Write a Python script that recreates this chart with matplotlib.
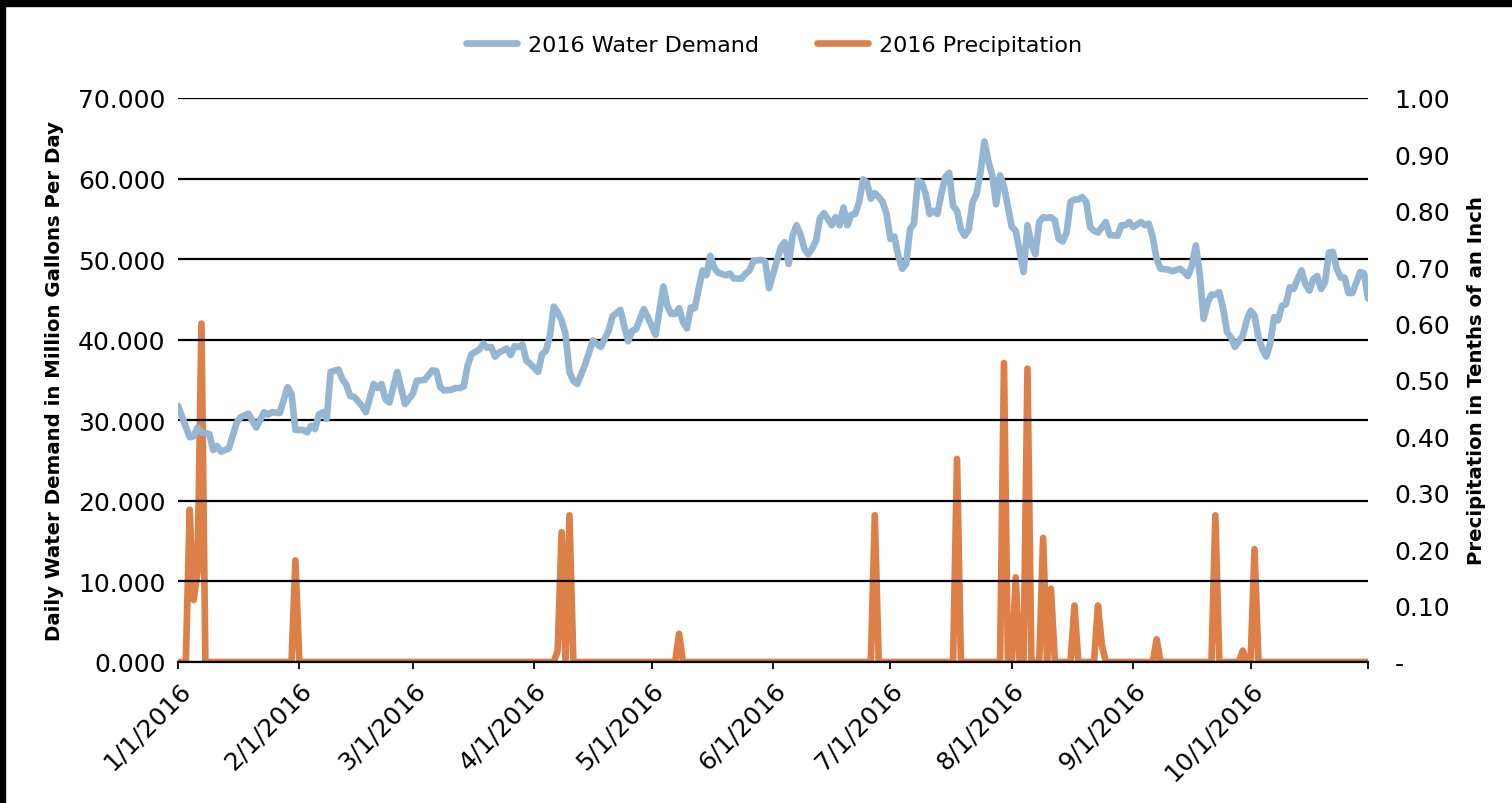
import numpy as np
import matplotlib
matplotlib.use("Agg")
import matplotlib.pyplot as plt
from matplotlib.patches import Rectangle

# Demand: (day offset from 1/1/2016, million gallons per day)
demand_days = [0, 3, 4, 5, 6, 8, 9, 10, 11, 13, 15, 16, 18, 20, 22, 23, 24, 26, 28, 29,
               30, 32, 33, 34, 35, 36, 37, 38, 39, 41, 42, 43, 44, 45, 47, 48, 50, 51, 52, 53,
               54, 56, 58, 60, 61, 63, 65, 66, 67, 68, 70, 71, 72, 73, 74, 75, 77, 78, 79, 80,
               81, 82, 84, 85, 86, 87, 88, 89, 90, 92, 93, 94, 95, 96, 97, 98, 99, 100, 101, 102,
               103, 104, 106, 107, 108, 110, 111, 113, 114, 115, 116, 117, 119, 120, 122, 124, 125, 126, 127, 128,
               129, 130, 131, 132, 134, 135, 136, 137, 138, 140, 141, 142, 144, 145, 146, 147, 149, 150, 151, 153,
               154, 155, 156, 157, 158, 159, 160, 161, 162, 163, 164, 165, 166, 167, 168, 169, 170, 171, 172, 173,
               174, 175, 176, 177, 178, 179, 180, 181, 182, 183, 184, 185, 186, 187, 188, 189, 190, 191, 192, 193,
               194, 195, 196, 197, 198, 199, 200, 201, 202, 203, 204, 205, 206, 207, 208, 209, 210, 211, 213, 214,
               215, 216, 217, 218, 219, 220, 221, 222, 223, 224, 225, 226, 227, 228, 229, 230, 231, 232, 233, 234,
               235, 237, 238, 240, 241, 242, 243, 244, 246, 247, 248, 249, 250, 251, 253, 254, 256, 257, 258, 259,
               260, 261, 262, 263, 264, 265, 266, 267, 268, 269, 270, 272, 273, 274, 275, 276, 277, 278, 279, 280,
               281, 282, 283, 284, 285, 286, 287, 288, 289, 290, 291, 292, 293, 294, 295, 296, 297, 298, 299, 300,
               302, 303, 304]
demand = [31.8, 27.9, 28.0, 29.1, 28.5, 28.3, 26.3, 26.8, 26.1, 26.5, 29.7, 30.4, 30.8, 29.1, 31.0, 30.7, 31.0, 30.9, 34.1, 33.3,
          28.8, 28.8, 28.5, 29.3, 28.9, 30.7, 31.0, 30.2, 36.0, 36.3, 35.1, 34.4, 33.0, 32.9, 31.8, 31.0, 34.5, 34.0, 34.5, 32.6,
          32.2, 36.0, 32.0, 33.3, 34.9, 35.0, 36.2, 36.1, 34.1, 33.7, 33.8, 34.0, 34.0, 34.2, 36.8, 38.2, 38.8, 39.5, 39.0, 39.1,
          37.9, 38.4, 38.9, 38.1, 39.2, 39.1, 39.4, 37.4, 37.0, 36.0, 38.2, 38.6, 40.5, 44.1, 43.4, 42.4, 40.7, 36.0, 34.9, 34.5,
          35.7, 36.9, 39.9, 39.5, 39.1, 41.1, 42.9, 43.7, 41.7, 39.8, 41.1, 41.3, 43.8, 42.8, 40.6, 46.6, 44.2, 43.2, 43.2, 43.9,
          42.2, 41.4, 44.0, 43.9, 48.6, 48.0, 50.4, 48.9, 48.3, 48.0, 48.2, 47.6, 47.6, 48.2, 48.6, 49.8, 49.9, 49.7, 46.4, 49.8,
          51.5, 52.1, 49.4, 52.9, 54.2, 53.1, 51.3, 50.6, 51.3, 52.3, 55.1, 55.7, 55.0, 54.2, 55.2, 54.2, 56.4, 54.2, 55.5, 55.6,
          57.1, 59.9, 59.5, 57.5, 58.2, 57.7, 57.1, 55.6, 52.5, 52.8, 50.4, 48.8, 49.4, 53.7, 54.4, 59.7, 59.5, 58.1, 55.6, 56.0,
          55.6, 58.1, 60.2, 60.7, 56.6, 56.0, 53.7, 52.9, 53.7, 57.1, 58.1, 60.8, 64.6, 62.2, 60.4, 56.8, 60.4, 59.0, 54.0, 53.5,
          51.0, 48.4, 54.2, 51.9, 50.6, 54.6, 55.2, 55.1, 55.2, 54.8, 52.5, 52.2, 53.3, 57.1, 57.4, 57.4, 57.7, 57.1, 54.0, 53.5,
          53.3, 54.6, 53.0, 52.9, 54.2, 54.2, 54.6, 54.0, 54.6, 54.2, 54.4, 52.7, 50.0, 48.8, 48.7, 48.5, 48.8, 48.4, 47.9, 49.2,
          51.7, 48.2, 42.6, 44.6, 45.6, 45.6, 45.9, 43.8, 40.9, 40.3, 39.1, 40.5, 42.4, 43.6, 43.0, 40.3, 38.8, 37.9, 39.5, 42.8,
          42.4, 44.2, 44.4, 46.5, 46.3, 47.5, 48.6, 46.9, 46.1, 47.5, 47.9, 46.3, 47.1, 50.8, 50.9, 48.8, 47.7, 47.7, 45.8, 45.8,
          48.4, 48.2, 45.1]

# Precipitation: rainy days (day offset) and amounts; all other days are 0
rain_days = [3, 4, 5, 6, 30, 97, 98, 100, 128, 178, 199, 211, 214, 217, 221, 223, 229, 235, 236, 250, 265, 272, 275]
rain = [0.27, 0.11, 0.16, 0.60, 0.18, 0.02, 0.23, 0.26, 0.05, 0.26, 0.36, 0.53, 0.15, 0.52, 0.22, 0.13, 0.10, 0.10, 0.03,
        0.04, 0.26, 0.02, 0.20]
n_days = 305

month_labels = ['1/1/2016', '2/1/2016', '3/1/2016', '4/1/2016', '5/1/2016',
                '6/1/2016', '7/1/2016', '8/1/2016', '9/1/2016', '10/1/2016']

start = np.datetime64('2016-01-01')
d_dates = start + np.array(demand_days)
all_days = np.arange(n_days)
precip = np.zeros(n_days)
precip[rain_days] = rain
p_dates = start + all_days

blue = '#94B6D2'
orange = '#DD8047'

plt.rcParams['font.family'] = ['DejaVu Sans']

fig = plt.figure(figsize=(15.12, 8.04), dpi=100)
ax = fig.add_axes([0.1177, 0.1754, 0.9048 - 0.1177, 0.8769 - 0.1754])
ax2 = ax.twinx()

ax.plot(d_dates, demand, color=blue, lw=4.8, solid_joinstyle='round', solid_capstyle='round',
        label='2016 Water Demand', zorder=3)
ax2.plot(p_dates, precip, color=orange, lw=4.8, solid_joinstyle='round', solid_capstyle='round',
         label='2016 Precipitation', zorder=3)

ax.set_ylim(0, 70)
ax.set_yticks(np.arange(0, 71, 10))
ax.set_yticklabels([f'{v:.3f}' for v in np.arange(0, 71, 10)])
ax2.set_ylim(0, 1.0)
ax2.set_yticks(np.arange(0, 1.01, 0.1))
ax2.set_yticklabels(['-'] + [f'{v:.2f}' for v in np.arange(0.1, 1.01, 0.1)])

ax.set_xlim(start, start + np.timedelta64(n_days - 1, 'D'))
month_ticks = [np.datetime64(f'2016-{m:02d}-01') for m in range(1, 11)]
ax.set_xticks(month_ticks + [start + np.timedelta64(n_days - 1, 'D')])
ax.set_xticklabels(month_labels + [''], rotation=45, ha='right', rotation_mode='anchor', fontsize=18)

ax.grid(axis='y', color='black', lw=1.6)
ax.set_axisbelow(True)
ax.set_zorder(ax2.get_zorder() + 1)
ax.patch.set_visible(False)

for a in (ax, ax2):
    for s in ('top', 'right', 'left'):
        a.spines[s].set_visible(False)
ax2.spines['bottom'].set_visible(False)
ax.spines['bottom'].set_color('black')
ax.spines['bottom'].set_linewidth(1.6)

ax.tick_params(axis='y', length=0, pad=9, labelsize=18)
ax2.tick_params(axis='y', length=0, pad=19, labelsize=18)
ax.tick_params(axis='x', length=5, width=1.3, pad=6, direction='out')

ax.set_ylabel('Daily Water Demand in Million Gallons Per Day', fontsize=14.2, fontweight='bold', labelpad=10)
ax2.set_ylabel('Precipitation in Tenths of an Inch', fontsize=14.2, fontweight='bold', labelpad=12)

h1, l1 = ax.get_legend_handles_labels()
h2, l2 = ax2.get_legend_handles_labels()
fig.legend(h1 + h2, l1 + l2, loc='center', bbox_to_anchor=(0.512, 0.943), ncol=2, frameon=False,
           fontsize=16, handlelength=2.3, handletextpad=0.5, columnspacing=2.6)

# black frame on top and left edges of the picture
fig.patches.append(Rectangle((0, 1 - 7 / 804), 1, 7 / 804, transform=fig.transFigure, color='black', zorder=10))
fig.patches.append(Rectangle((0, 0), 5 / 1512, 1, transform=fig.transFigure, color='black', zorder=10))

fig.savefig('out.png', dpi=100)
